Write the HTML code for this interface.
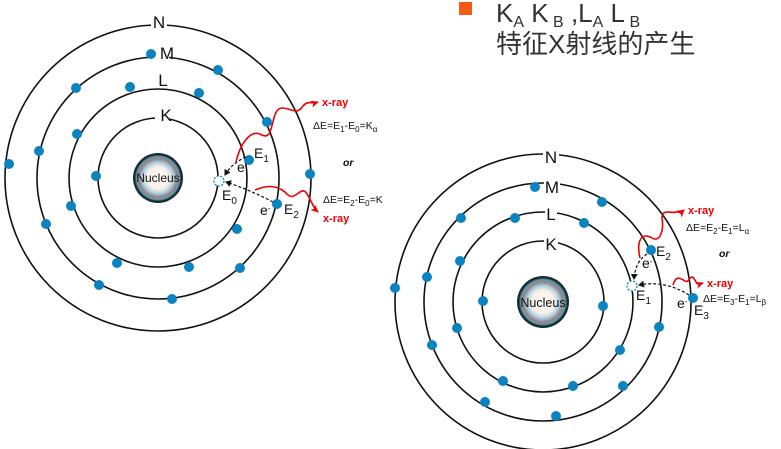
<!DOCTYPE html>
<html><head><meta charset="utf-8"><style>
html,body{margin:0;padding:0;background:#fff;width:781px;height:449px;overflow:hidden}
svg{display:block}
.lbl{font-family:"Liberation Sans",sans-serif;font-size:17px;fill:#111}
.e{font-family:"Liberation Sans",sans-serif;font-size:14px;fill:#111}
.x{font-family:"Liberation Sans",sans-serif;font-size:11px;fill:#e00;font-weight:bold}
.d{font-family:"Liberation Sans",sans-serif;font-size:10.5px;fill:#111}
</style></head><body>
<svg width="781" height="449" viewBox="0 0 781 449" xmlns="http://www.w3.org/2000/svg">
<defs>
<radialGradient id="nuc">
<stop offset="0" stop-color="#fff"/>
<stop offset="0.45" stop-color="#fbeee4"/>
<stop offset="0.62" stop-color="#a9d3e3"/>
<stop offset="0.76" stop-color="#9c8088"/>
<stop offset="0.86" stop-color="#5d9fb0"/>
<stop offset="0.93" stop-color="#1a2a33"/>
<stop offset="1" stop-color="#1a2a33"/>
</radialGradient>
<marker id="ar" markerUnits="userSpaceOnUse" markerWidth="9" markerHeight="9" refX="7" refY="4.5" orient="auto"><path d="M0,1 L8,4.5 L0,8 L2,4.5 Z" fill="#e00"/></marker>
<marker id="ak" markerUnits="userSpaceOnUse" markerWidth="7" markerHeight="7" refX="5" refY="3.5" orient="auto"><path d="M0,0 L6,3.5 L0,7 Z" fill="#111"/></marker>
</defs>
<!-- Title -->
<rect x="459" y="2" width="13" height="13" fill="#f55a14"/>
<text x="496" y="22" font-family="Liberation Sans,sans-serif" font-size="26" fill="#333">K<tspan font-size="16" dy="5">A</tspan><tspan dy="-5"> K</tspan><tspan font-size="16" dy="5"> B</tspan><tspan dy="-5"> ,L</tspan><tspan font-size="16" dy="5">A</tspan><tspan dy="-5"> L</tspan><tspan font-size="16" dy="5"> B</tspan></text>
<text x="496" y="53" font-family="Liberation Sans,'Noto Sans CJK SC',sans-serif" font-size="26" fill="#333">特征X射线的产生</text>

<!-- Left atom -->
<g fill="none" stroke="#111" stroke-width="1.6">
<circle cx="158" cy="178" r="60"/><circle cx="158" cy="178" r="89"/><circle cx="158" cy="178" r="121"/><circle cx="158" cy="178" r="153"/>
</g>
<circle cx="158" cy="178" r="25" fill="url(#nuc)"/>
<text x="158" y="182" text-anchor="middle" font-family="Liberation Sans,sans-serif" font-size="12" fill="#111">Nucleus</text>
<rect x="151" y="14" width="16" height="16" fill="#fff"/><text class="lbl" x="159" y="28" text-anchor="middle">N</text>
<rect x="153" y="44" width="16" height="16" fill="#fff"/><text class="lbl" x="167" y="59" text-anchor="middle">M</text>
<rect x="155" y="72" width="12" height="16" fill="#fff"/><text class="lbl" x="163" y="86" text-anchor="middle">L</text>
<rect x="155" y="106" width="14" height="16" fill="#fff"/><text class="lbl" x="166" y="121" text-anchor="middle">K</text>
<g fill="#0a84c0">
<circle cx="9" cy="164" r="5"/><circle cx="39" cy="151" r="5"/><circle cx="77" cy="134" r="5"/><circle cx="76" cy="88" r="5"/><circle cx="130" cy="87" r="5"/><circle cx="151" cy="54" r="5"/><circle cx="218" cy="70" r="5"/><circle cx="199" cy="93" r="5"/><circle cx="267" cy="122" r="5"/><circle cx="310" cy="174" r="5"/><circle cx="96" cy="176" r="5"/><circle cx="249" cy="160" r="5"/><circle cx="277" cy="204" r="5"/><circle cx="237" cy="229" r="5"/><circle cx="240" cy="268" r="5"/><circle cx="189" cy="267" r="5"/><circle cx="117" cy="263" r="5"/><circle cx="71" cy="206" r="5"/><circle cx="46" cy="224" r="5"/><circle cx="99" cy="285" r="5"/><circle cx="172" cy="299" r="5"/>
</g>
<circle cx="219" cy="181" r="5" fill="#fff" stroke="#0a84c0" stroke-width="1.3" stroke-dasharray="2,1.5"/>
<path d="M246,157 Q232,163 225,175" fill="none" stroke="#111" stroke-width="1.2" stroke-dasharray="3,2" marker-end="url(#ak)"/>
<path d="M273,202 Q250,190 226,182" fill="none" stroke="#111" stroke-width="1.2" stroke-dasharray="3,2" marker-end="url(#ak)"/>
<text class="e" x="237" y="172" font-size="11">e<tspan font-size="8" dy="-4">-</tspan></text>
<text class="e" x="260" y="215" font-size="11">e<tspan font-size="8" dy="-4">-</tspan></text>
<text class="e" x="254" y="158">E<tspan font-size="10" dy="4">1</tspan></text>
<text class="e" x="222" y="200">E<tspan font-size="10" dy="4">0</tspan></text>
<text class="e" x="284" y="214">E<tspan font-size="10" dy="4">2</tspan></text>
<path d="M236,162 C240,145 250,128 262,135 C275,142 270,108 282,108 C292,108 296,116 303,106 C308,100 312,104 318,102" fill="none" stroke="#e00" stroke-width="1.6" marker-end="url(#ar)"/>
<path d="M255,190 C265,186 275,184 285,192 C290,198 292,198 300,192 C308,186 310,205 318,212" fill="none" stroke="#e00" stroke-width="1.6" marker-end="url(#ar)"/>
<text class="x" x="322" y="106">x-ray</text>
<text class="d" x="313" y="129">ΔE=E<tspan font-size="8" dy="3">1</tspan><tspan dy="-3">-E</tspan><tspan font-size="8" dy="3">0</tspan><tspan dy="-3">=K</tspan><tspan font-size="8" dy="3">α</tspan></text>
<text class="d" x="343" y="166" font-style="italic" font-weight="bold">or</text>
<text class="d" x="323" y="203">ΔE=E<tspan font-size="8" dy="3">2</tspan><tspan dy="-3">-E</tspan><tspan font-size="8" dy="3">0</tspan><tspan dy="-3">=K</tspan></text>
<text class="x" x="323" y="222">x-ray</text>

<!-- Right atom -->
<g fill="none" stroke="#111" stroke-width="1.6">
<circle cx="543" cy="302" r="61"/><circle cx="543" cy="302" r="90"/><circle cx="543" cy="302" r="119"/><circle cx="543" cy="302" r="148"/>
</g>
<circle cx="543" cy="302" r="26" fill="url(#nuc)"/>
<text x="543" y="307" text-anchor="middle" font-family="Liberation Sans,sans-serif" font-size="12.5" fill="#111">Nucleus</text>
<rect x="543" y="149" width="16" height="16" fill="#fff"/><text class="lbl" x="551" y="163" text-anchor="middle">N</text>
<rect x="544" y="178" width="16" height="16" fill="#fff"/><text class="lbl" x="552" y="193" text-anchor="middle">M</text>
<rect x="545" y="206" width="12" height="16" fill="#fff"/><text class="lbl" x="551" y="220" text-anchor="middle">L</text>
<rect x="544" y="235" width="14" height="16" fill="#fff"/><text class="lbl" x="551" y="250" text-anchor="middle">K</text>
<g fill="#0a84c0">
<circle cx="395" cy="288" r="5"/><circle cx="427" cy="277" r="5"/><circle cx="460" cy="261" r="5"/><circle cx="461" cy="218" r="5"/><circle cx="515" cy="218" r="5"/><circle cx="535" cy="187" r="5"/><circle cx="602" cy="202" r="5"/><circle cx="584" cy="223" r="5"/><circle cx="483" cy="301" r="5"/><circle cx="603" cy="306" r="5"/><circle cx="457" cy="328" r="5"/><circle cx="432" cy="345" r="5"/><circle cx="503" cy="381" r="5"/><circle cx="573" cy="386" r="5"/><circle cx="620" cy="350" r="5"/><circle cx="659" cy="327" r="5"/><circle cx="623" cy="386" r="5"/><circle cx="485" cy="402" r="5"/><circle cx="556" cy="416" r="5"/><circle cx="651" cy="250" r="5"/><circle cx="693" cy="298" r="5"/>
</g>
<circle cx="632" cy="286" r="5" fill="#fff" stroke="#0a84c0" stroke-width="1.3" stroke-dasharray="2,1.5"/>
<path d="M647,254 Q635,262 634,279" fill="none" stroke="#111" stroke-width="1.2" stroke-dasharray="3,2" marker-end="url(#ak)"/>
<path d="M689,295 Q665,280 639,285" fill="none" stroke="#111" stroke-width="1.2" stroke-dasharray="3,2" marker-end="url(#ak)"/>
<text class="e" x="642" y="268" font-size="11">e<tspan font-size="8" dy="-4">-</tspan></text>
<text class="e" x="677" y="308" font-size="11">e<tspan font-size="8" dy="-4">-</tspan></text>
<text class="e" x="656" y="256">E<tspan font-size="10" dy="4">2</tspan></text>
<text class="e" x="636" y="300">E<tspan font-size="10" dy="4">1</tspan></text>
<text class="e" x="694" y="315">E<tspan font-size="10" dy="4">3</tspan></text>
<path d="M640,258 C636,240 642,232 652,238 C660,243 664,230 662,218 C662,208 672,214 676,212 C680,210 682,212 684,210" fill="none" stroke="#e00" stroke-width="1.6" marker-end="url(#ar)"/>
<path d="M673,285 C676,275 680,278 685,281 C690,284 690,270 696,282 C698,285 700,284 703,283" fill="none" stroke="#e00" stroke-width="1.6" marker-end="url(#ar)"/>
<text class="x" x="688" y="214">x-ray</text>
<text class="d" x="686" y="231">ΔE=E<tspan font-size="8" dy="3">2</tspan><tspan dy="-3">-E</tspan><tspan font-size="8" dy="3">1</tspan><tspan dy="-3">=L</tspan><tspan font-size="8" dy="3">α</tspan></text>
<text class="d" x="719" y="257" font-style="italic" font-weight="bold">or</text>
<text class="x" x="707" y="287">x-ray</text>
<text class="d" x="703" y="302">ΔE=E<tspan font-size="8" dy="3">3</tspan><tspan dy="-3">-E</tspan><tspan font-size="8" dy="3">1</tspan><tspan dy="-3">=L</tspan><tspan font-size="8" dy="3">β</tspan></text>
</svg>
</body></html>
